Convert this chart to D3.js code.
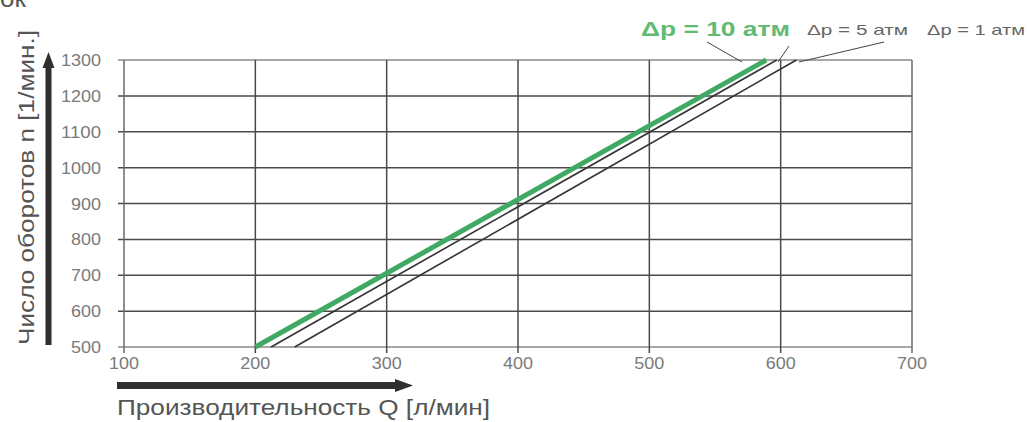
<!DOCTYPE html>
<html><head><meta charset="utf-8">
<script src="https://cdn.jsdelivr.net/npm/d3@7"></script>
<style>body{margin:0;background:#fff}svg{display:block}</style>
</head><body>
<svg id="c" width="1029" height="422"></svg>
<script>
const xTicks = [100, 200, 300, 400, 500, 600, 700];
const yTicks = [500, 600, 700, 800, 900, 1000, 1100, 1200, 1300];
const seriesNames = ["Δp = 10 атм", "Δp = 5 атм", "Δp = 1 атм"];
const flow10 = [200, 589];
const flow5 = [212, 597];
const flow1 = [230, 612];
const speed = [500, 1300];

const svg = d3.select("#c");
const font = "'Liberation Sans', Arial, sans-serif";
const x = d3.scaleLinear().domain([100, 700]).range([124, 912]);
const y = d3.scaleLinear().domain([500, 1300]).range([347, 60]);

// partial heading at the top
svg.append("text").attr("x", 0).attr("y", 7).attr("font-family", font)
  .attr("font-size", 26).attr("fill", "#555").text("ок");

// grid
const g = svg.append("g");
g.selectAll("line.h").data(yTicks).join("line")
  .attr("x1", x(100) - 6).attr("x2", x(700))
  .attr("y1", d => y(d)).attr("y2", d => y(d))
  .attr("stroke", d => (d === 500 || d === 1300) ? "#8a8a8a" : "#4a4a4a")
  .attr("stroke-width", 1.5);
g.selectAll("line.v").data(xTicks).join("line")
  .attr("x1", d => x(d)).attr("x2", d => x(d))
  .attr("y1", y(1300)).attr("y2", y(500) + 6)
  .attr("stroke", d => (d === 100 || d === 700) ? "#6a6a6a" : "#4a4a4a")
  .attr("stroke-width", 1.5);

// tick labels
svg.selectAll("text.yt").data(yTicks).join("text")
  .attr("x", 101).attr("y", d => y(d) + 6).attr("text-anchor", "end")
  .attr("font-family", font).attr("font-size", 16).attr("fill", "#7a7a7a")
  .attr("textLength", d => String(d).length * 10).attr("lengthAdjust", "spacingAndGlyphs")
  .text(d => d);
svg.selectAll("text.xt").data(xTicks).join("text")
  .attr("x", d => x(d)).attr("y", y(500) + 22).attr("text-anchor", "middle")
  .attr("font-family", font).attr("font-size", 16).attr("fill", "#7a7a7a")
  .attr("textLength", d => String(d).length * 10).attr("lengthAdjust", "spacingAndGlyphs")
  .text(d => d);

// lines
const line = d3.line().x(d => x(d[0])).y(d => y(d[1]));
const mk = f => f.map((q, i) => [q, speed[i]]);
svg.append("path").attr("d", line(mk(flow1))).attr("stroke", "#333").attr("stroke-width", 1.6).attr("fill", "none");
svg.append("path").attr("d", line(mk(flow5))).attr("stroke", "#333").attr("stroke-width", 1.6).attr("fill", "none");
svg.append("path").attr("d", line(mk(flow10))).attr("stroke", "#40a964").attr("stroke-width", 5).attr("fill", "none");

// legend labels
svg.append("text").attr("x", 641).attr("y", 36).attr("font-family", font)
  .attr("font-size", 21).attr("font-weight", "bold").attr("fill", "#62bb74")
  .attr("textLength", 149).attr("lengthAdjust", "spacingAndGlyphs").text(seriesNames[0]);
svg.append("text").attr("x", 807).attr("y", 35).attr("font-family", font)
  .attr("font-size", 15).attr("fill", "#666")
  .attr("textLength", 101).attr("lengthAdjust", "spacingAndGlyphs").text(seriesNames[1]);
svg.append("text").attr("x", 927).attr("y", 35).attr("font-family", font)
  .attr("font-size", 15).attr("fill", "#666")
  .attr("textLength", 98).attr("lengthAdjust", "spacingAndGlyphs").text(seriesNames[2]);

// leader lines
const leaders = [[[707, 42], [742, 62]], [[789, 46], [778, 62]], [[884, 42], [799, 62]]];
svg.selectAll("line.ld").data(leaders).join("line")
  .attr("x1", d => d[0][0]).attr("y1", d => d[0][1])
  .attr("x2", d => d[1][0]).attr("y2", d => d[1][1])
  .attr("stroke", "#444").attr("stroke-width", 1);

// axis arrows
svg.append("rect").attr("x", 45.5).attr("y", 64).attr("width", 6).attr("height", 281).attr("fill", "#2f2f2f");
svg.append("path").attr("d", "M48.5,52 L42.5,68 L54.5,68 Z").attr("fill", "#2f2f2f");
svg.append("rect").attr("x", 117).attr("y", 382).attr("width", 280).attr("height", 7).attr("fill", "#2f2f2f");
svg.append("path").attr("d", "M413,385.5 L395,379 L395,392 Z").attr("fill", "#2f2f2f");

// axis titles
svg.append("text").attr("transform", "translate(34,345) rotate(-90)")
  .attr("font-family", font).attr("font-size", 22)
  .attr("textLength", 315).attr("lengthAdjust", "spacingAndGlyphs")
  .attr("fill", "#555").text("Число оборотов n [1/мин.]");
svg.append("text").attr("x", 117).attr("y", 415).attr("font-family", font)
  .attr("font-size", 22).attr("fill", "#555")
  .attr("textLength", 373).attr("lengthAdjust", "spacingAndGlyphs")
  .text("Производительность Q [л/мин]");
</script>
</body></html>
